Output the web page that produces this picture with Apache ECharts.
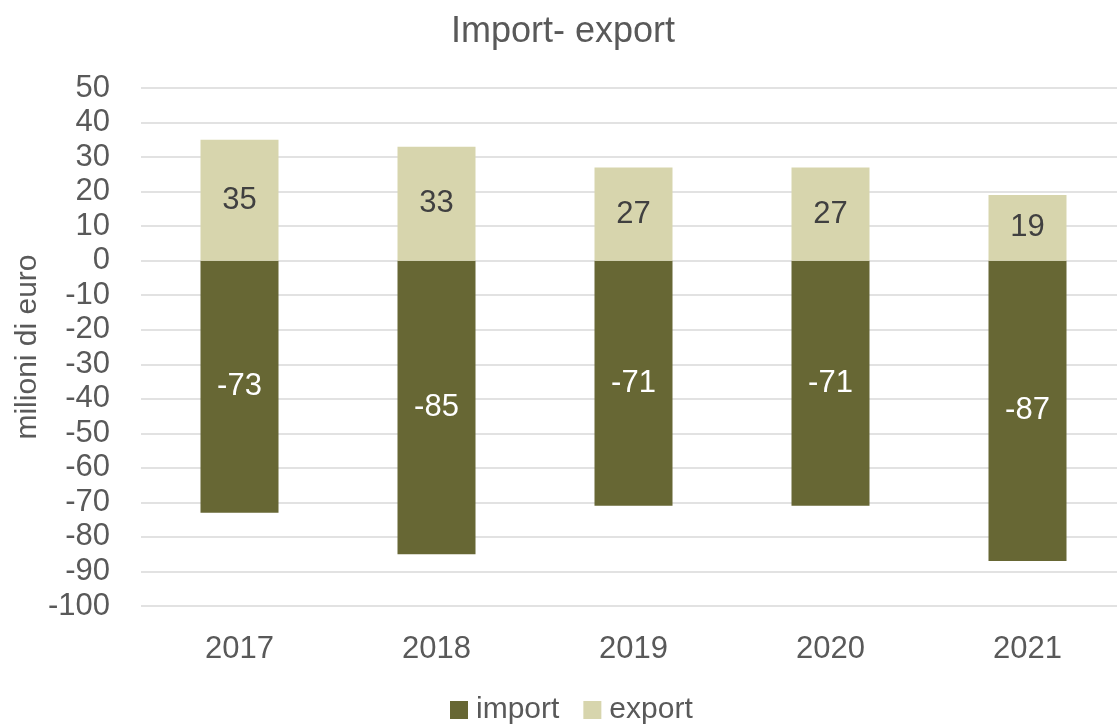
<!DOCTYPE html>
<html>
<head>
<meta charset="utf-8">
<script src="https://cdn.jsdelivr.net/npm/echarts@6/dist/echarts.min.js"></script>
<style>
  html, body { margin: 0; padding: 0; background: #fff; }
  #chart { width: 1117px; height: 724px; }
</style>
</head>
<body>
<div id="chart"></div>
<script>
// Yearly trade balance, millions of euro
const years = ['2017', '2018', '2019', '2020', '2021'];
const importValues = [-73, -85, -71, -71, -87];
const exportValues = [35, 33, 27, 27, 19];

const FONT = '"Liberation Sans", Arial, sans-serif';
const TEXT = '#595959';

const chart = echarts.init(document.getElementById('chart'), null, { renderer: 'canvas' });

chart.setOption({
  animation: false,
  textStyle: { fontFamily: FONT },
  title: {
    text: 'Import- export',
    left: 446,
    top: 9,
    textStyle: { fontFamily: FONT, fontSize: 36, fontWeight: 'normal', color: TEXT }
  },
  legend: {
    bottom: -6,
    left: 445,
    itemWidth: 18,
    itemHeight: 18,
    itemGap: 24,
    icon: 'rect',
    textStyle: { fontFamily: FONT, fontSize: 30, color: TEXT, padding: [0, 0, 0, 3] },
    data: ['import', 'export']
  },
  grid: { left: 141, right: -9, top: 88, bottom: 118, containLabel: false, outerBoundsMode: 'none' },
  xAxis: {
    type: 'category',
    data: years,
    axisLine: { show: false },
    axisTick: { show: false },
    axisLabel: { fontFamily: FONT, fontSize: 31, color: TEXT, margin: 28 }
  },
  yAxis: {
    type: 'value',
    min: -100,
    max: 50,
    interval: 10,
    name: 'milioni di euro',
    nameLocation: 'middle',
    nameGap: 98,
    nameMoveOverlap: false,
    nameRotate: 90,
    nameTextStyle: { fontFamily: FONT, fontSize: 30, color: TEXT },
    axisLine: { show: false },
    axisTick: { show: false },
    axisLabel: { fontFamily: FONT, fontSize: 31, color: TEXT, margin: 31 },
    splitLine: { lineStyle: { color: '#d9d9d9', width: 1.5 } }
  },
  series: [
    {
      name: 'import',
      type: 'bar',
      stack: 'trade',
      barWidth: 78,
      data: importValues,
      itemStyle: { color: '#676734' },
      label: {
        show: true,
        position: 'inside',
        color: '#ffffff',
        fontFamily: FONT,
        fontSize: 31
      }
    },
    {
      name: 'export',
      type: 'bar',
      stack: 'trade',
      barWidth: 78,
      data: exportValues,
      itemStyle: { color: '#d7d5ad' },
      label: {
        show: true,
        position: 'inside',
        color: '#404040',
        fontFamily: FONT,
        fontSize: 31
      }
    }
  ]
});
</script>
</body>
</html>
